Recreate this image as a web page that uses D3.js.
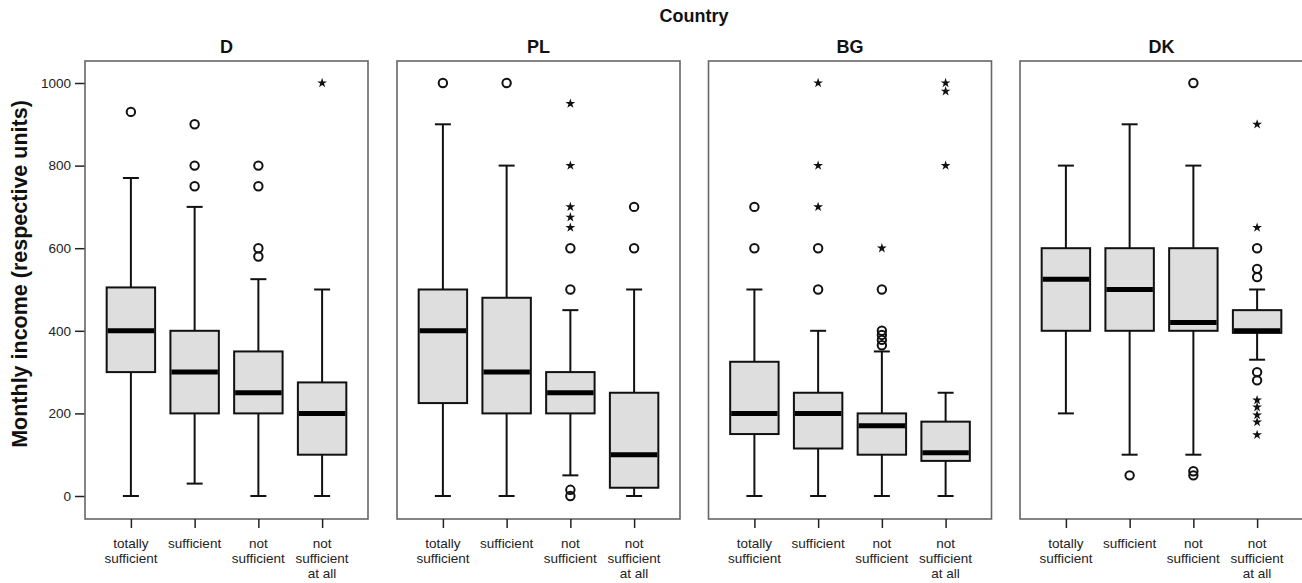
<!DOCTYPE html>
<html><head><meta charset="utf-8">
<script src="https://cdn.jsdelivr.net/npm/d3@7"></script>
<style>body{margin:0;background:#fff}svg{display:block;font-family:"Liberation Sans",Arial,sans-serif}</style>
</head><body><svg id="c" width="1302" height="583"></svg>
<script>
const countries = ["D", "PL", "BG", "DK"];
const categories = ["totally sufficient", "sufficient", "not sufficient", "not sufficient at all"];
const categoryLines = [["totally", "sufficient"], ["sufficient"], ["not", "sufficient"], ["not", "sufficient", "at all"]];
const yTicks = [0, 200, 400, 600, 800, 1000];
// [low whisker, Q1, median, Q3, high whisker] per category
const statsD  = [[0, 300, 400, 505, 770], [30, 200, 300, 400, 700], [0, 200, 250, 350, 525], [0, 100, 200, 275, 500]];
const statsPL = [[0, 225, 400, 500, 900], [0, 200, 300, 480, 800], [50, 200, 250, 300, 450], [0, 20, 100, 250, 500]];
const statsBG = [[0, 150, 200, 325, 500], [0, 115, 200, 250, 400], [0, 100, 170, 200, 350], [0, 85, 105, 180, 250]];
const statsDK = [[200, 400, 525, 600, 800], [100, 400, 500, 600, 900], [100, 400, 420, 600, 800], [330, 395, 400, 450, 500]];
// outliers (circles) and extremes (stars) per category
const circlesD  = [[930], [900, 800, 750], [800, 750, 600, 580], []];
const starsD    = [[], [], [], [1000]];
const circlesPL = [[1000], [1000], [600, 500, 15, 0], [700, 600]];
const starsPL   = [[], [], [950, 800, 700, 675, 650], []];
const circlesBG = [[700, 600], [600, 500], [500, 400, 390, 378, 365], []];
const starsBG   = [[], [1000, 800, 700], [600], [1000, 980, 800]];
const circlesDK = [[], [50], [1000, 60, 50], [600, 550, 530, 300, 280]];
const starsDK   = [[], [], [], [900, 650, 232, 215, 196, 179, 148]];

const allStats = [statsD, statsPL, statsBG, statsDK];
const allCircles = [circlesD, circlesPL, circlesBG, circlesDK];
const allStars = [starsD, starsPL, starsBG, starsDK];

const svg = d3.select("#c");
const panelLeft = [85, 397, 708.5, 1020];
const panelW = 283, panelTop = 61, panelBottom = 519;
const y = d3.scaleLinear().domain([0, 1000]).range([496, 83]);

svg.append("text").attr("x", 694).attr("y", 22).attr("text-anchor", "middle")
  .attr("font-weight", "bold").attr("font-size", 18).attr("fill", "#111").text("Country");

svg.append("text").attr("transform", "translate(27,274) rotate(-90)").attr("text-anchor", "middle")
  .attr("font-weight", "bold").attr("font-size", 21.5).attr("fill", "#111").text("Monthly income (respective units)");

// y axis on first panel
const yAxis = d3.axisLeft(y).tickValues(yTicks).tickSize(10).tickPadding(4).tickFormat(d3.format("d"));
const ya = svg.append("g").attr("transform", `translate(${panelLeft[0]},0)`).call(yAxis);
ya.select(".domain").remove();
ya.selectAll("line").attr("stroke", "#222").attr("stroke-width", 1.5);
ya.selectAll("text").attr("font-size", 13.5).attr("fill", "#222").attr("font-family", "Liberation Sans, Arial, sans-serif");

const star = d3.symbol().type(d3.symbolStar).size(30);

countries.forEach((c, pi) => {
  const L = panelLeft[pi];
  const x = d3.scalePoint().domain(categories).range([L, L + panelW]).padding(0.72);
  const step = x.step();
  const bw = step * 0.76, cap = 16;
  const g = svg.append("g");

  g.append("text").attr("x", L + panelW / 2).attr("y", 53).attr("text-anchor", "middle")
    .attr("font-weight", "bold").attr("font-size", 18).attr("fill", "#111").text(c);

  g.append("rect").attr("x", L).attr("y", panelTop).attr("width", panelW).attr("height", panelBottom - panelTop)
    .attr("fill", "none").attr("stroke", "#666").attr("stroke-width", 1.6);

  // x axis
  const xa = g.append("g").attr("transform", `translate(0,${panelBottom})`)
    .call(d3.axisBottom(x).tickSize(9).tickFormat(""));
  xa.select(".domain").remove();
  xa.selectAll("line").attr("stroke", "#222").attr("stroke-width", 1.5);
  categories.forEach((cat, ci) => {
    const t = g.append("text").attr("text-anchor", "middle").attr("font-size", 13.5).attr("fill", "#222");
    categoryLines[ci].forEach((ln, li) => {
      t.append("tspan").attr("x", x(cat)).attr("y", 548 + li * 14.8).text(ln);
    });
  });

  allStats[pi].forEach((s, ci) => {
    const cx = x(categories[ci]);
    const [lo, q1, md, q3, hi] = s;
    g.append("line").attr("x1", cx).attr("x2", cx).attr("y1", y(hi)).attr("y2", y(q3)).attr("stroke", "#111").attr("stroke-width", 2);
    g.append("line").attr("x1", cx).attr("x2", cx).attr("y1", y(q1)).attr("y2", y(lo)).attr("stroke", "#111").attr("stroke-width", 2);
    g.append("line").attr("x1", cx - cap / 2).attr("x2", cx + cap / 2).attr("y1", y(hi)).attr("y2", y(hi)).attr("stroke", "#111").attr("stroke-width", 2);
    g.append("line").attr("x1", cx - cap / 2).attr("x2", cx + cap / 2).attr("y1", y(lo)).attr("y2", y(lo)).attr("stroke", "#111").attr("stroke-width", 2);
    g.append("rect").attr("x", cx - bw / 2).attr("y", y(q3)).attr("width", bw).attr("height", y(q1) - y(q3))
      .attr("fill", "#dedede").attr("stroke", "#111").attr("stroke-width", 2);
    g.append("line").attr("x1", cx - bw / 2 + 1).attr("x2", cx + bw / 2 - 1).attr("y1", y(md)).attr("y2", y(md))
      .attr("stroke", "#000").attr("stroke-width", 5);

    allCircles[pi][ci].forEach(v => {
      g.append("circle").attr("cx", cx).attr("cy", y(v)).attr("r", 4.2)
        .attr("fill", "none").attr("stroke", "#111").attr("stroke-width", 2);
    });
    allStars[pi][ci].forEach(v => {
      g.append("path").attr("d", star).attr("transform", `translate(${cx},${y(v)})`).attr("fill", "#111");
    });
  });
});
</script></body></html>
